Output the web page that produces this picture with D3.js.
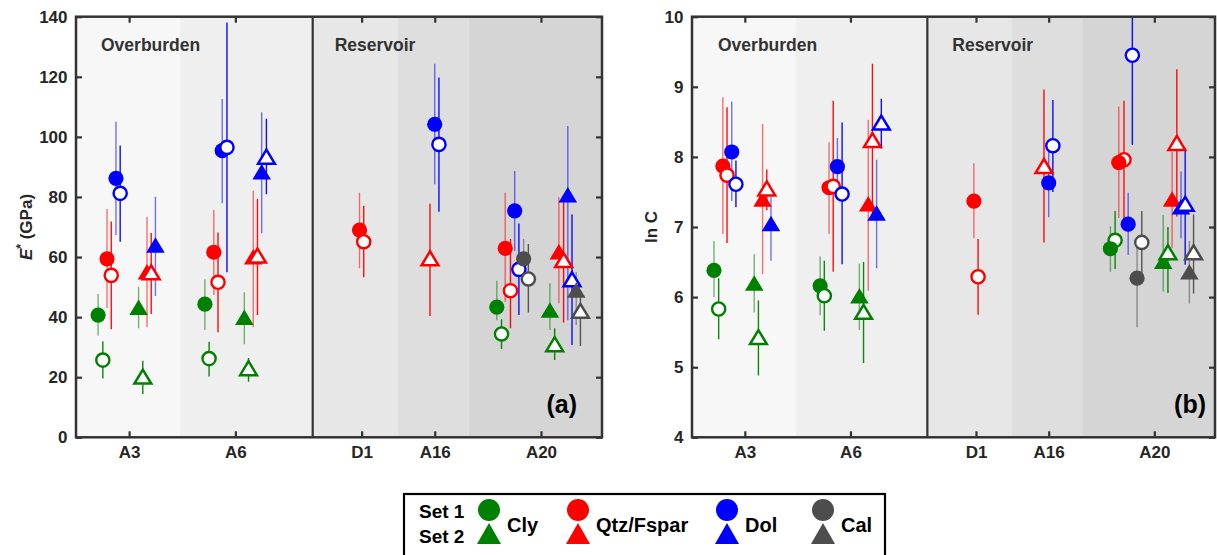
<!DOCTYPE html>
<html>
<head>
<meta charset="utf-8">
<script src="https://cdn.jsdelivr.net/npm/d3@7"></script>
<style>
  body { margin: 0; background: #fff; }
  svg { display: block; }
  text { font-family: "Liberation Sans", Arial, Helvetica, sans-serif; font-weight: bold; }
</style>
</head>
<body>
<svg id="chart" width="1217" height="555"></svg>
<script>
// ---- sites along the section ----
const sites = ["A3", "A6", "D1", "A16", "A20"];
const sitePos = [1.01, 3.03, 5.43, 6.82, 8.84];
const bandEdges = [0, 1.98, 4.5, 6.12, 7.46, 10];
const zoneNames = ["Overburden", "Reservoir"];
const zoneStart = [0, 4.5];

// ---- mineral groups ----
const minerals = ["Cly", "Qtz/Fspar", "Dol", "Cal"];

// rows: site, set (1 or 2), hollow, pos, E*, E* low, E* high, lnC, lnC low, lnC high
const cly = [
  ["A3", 1, false, 0.42, 40.7, 33.8, 47.7, 6.38, 6.00, 6.80],
  ["A3", 1, true,  0.51, 25.7, 19.6, 32.0, 5.83, 5.40, 6.27],
  ["A3", 2, false, 1.19, 43.3, 36.3, 50.1, 6.20, 5.78, 6.61],
  ["A3", 2, true,  1.27, 20.2, 14.4, 25.5, 5.43, 4.88, 5.95],
  ["A6", 1, false, 2.45, 44.3, 35.7, 52.6, 6.16, 5.74, 6.58],
  ["A6", 1, true,  2.53, 26.2, 20.2, 31.8, 6.02, 5.52, 6.52],
  ["A6", 2, false, 3.20, 40.0, 31.0, 48.3, 6.02, 5.53, 6.48],
  ["A6", 2, true,  3.28, 23.0, 18.5, 26.4, 5.79, 5.06, 6.50],
  ["A20", 1, false, 8.00, 43.3, 39.0, 52.1, 6.69, 6.36, 7.01],
  ["A20", 1, true,  8.09, 34.4, 29.4, 39.3, 6.81, 6.40, 7.23],
  ["A20", 2, false, 9.01, 42.4, 35.7, 51.3, 6.51, 6.08, 7.17],
  ["A20", 2, true,  9.10, 31.0, 25.7, 36.3, 6.64, 6.06, 7.00]
];
const qtz = [
  ["A3", 1, false, 0.59, 59.4, 43.0, 76.0, 7.87, 6.90, 8.85],
  ["A3", 1, true,  0.67, 53.9, 36.0, 71.8, 7.74, 6.77, 8.71],
  ["A3", 2, false, 1.35, 55.1, 36.6, 73.4, 7.40, 6.33, 8.47],
  ["A3", 2, true,  1.43, 54.9, 41.0, 68.0, 7.55, 7.24, 7.82],
  ["A6", 1, false, 2.62, 61.6, 47.4, 75.7, 7.56, 6.90, 8.21],
  ["A6", 1, true,  2.70, 51.6, 35.0, 68.2, 7.58, 6.36, 8.80],
  ["A6", 2, false, 3.37, 60.1, 36.6, 82.1, 7.33, 6.09, 8.53],
  ["A6", 2, true,  3.45, 60.5, 40.7, 79.3, 8.24, 7.15, 9.33],
  ["D1", 1, false, 5.39, 69.0, 56.3, 81.4, 7.37, 6.84, 7.91],
  ["D1", 1, true,  5.47, 65.1, 53.3, 77.1, 6.29, 5.75, 6.83],
  ["A16", 2, true, 6.73, 59.6, 40.4, 77.7, 7.87, 6.78, 8.96],
  ["A20", 1, false, 8.16, 62.9, 45.0, 81.4, 7.92, 7.13, 8.72],
  ["A20", 1, true,  8.26, 48.8, 36.3, 66.0, 7.96, 7.10, 8.80],
  ["A20", 2, false, 9.18, 61.8, 44.6, 79.9, 7.40, 6.70, 8.07],
  ["A20", 2, true,  9.27, 59.0, 38.2, 79.0, 8.20, 7.15, 9.25]
];
const dol = [
  ["A3", 1, false, 0.76, 86.2, 67.3, 105.0, 8.07, 7.37, 8.79],
  ["A3", 1, true,  0.84, 81.2, 65.1, 97.1, 7.61, 7.28, 7.95],
  ["A3", 2, false, 1.51, 64.0, 47.0, 80.1, 7.05, 6.52, 7.43],
  ["A6", 1, false, 2.78, 95.4, 77.9, 112.6, 7.86, 7.39, 8.27],
  ["A6", 1, true,  2.87, 96.5, 54.9, 138.1, 7.47, 6.47, 8.49],
  ["A6", 2, false, 3.53, 88.4, 67.9, 108.2, 7.20, 6.41, 7.96],
  ["A6", 2, true,  3.62, 93.4, 80.9, 106.0, 8.49, 8.12, 8.83],
  ["A16", 1, false, 6.82, 104.2, 84.2, 124.3, 7.63, 7.14, 8.10],
  ["A16", 1, true,  6.90, 97.5, 75.1, 119.8, 8.16, 7.50, 8.81],
  ["A20", 1, false, 8.34, 75.4, 62.0, 88.6, 7.04, 6.60, 7.49],
  ["A20", 1, true,  8.42, 55.9, 40.7, 71.2, 9.45, 8.17, 10.80],
  ["A20", 2, false, 9.35, 80.7, 39.0, 103.6, 7.29, 6.84, 7.79],
  ["A20", 2, true,  9.43, 52.6, 30.7, 74.2, 7.33, 6.46, 8.10]
];
const cal = [
  ["A20", 1, false, 8.51, 59.4, 52.0, 66.0, 6.27, 5.57, 6.70],
  ["A20", 1, true,  8.60, 52.7, 41.5, 64.3, 6.78, 6.27, 7.23],
  ["A20", 2, false, 9.51, 49.0, 37.4, 55.0, 6.36, 5.91, 6.80],
  ["A20", 2, true,  9.59, 42.1, 30.4, 48.5, 6.64, 6.05, 7.18]
];

// ---- y axes ----
const eTicks = [0, 20, 40, 60, 80, 100, 120, 140];
const cTicks = [4, 5, 6, 7, 8, 9, 10];

// ---------------- drawing ----------------
const mineralColor = ["#008000", "#ff0000", "#0000ff", "#4d4d4d"];
const bandFill = ["#f7f7f7", "#efefef", "#e7e7e7", "#dedede", "#d5d5d5"];
const groups = [cly, qtz, dol, cal];

const points = [];
groups.forEach((rows, mi) => rows.forEach(r => points.push({
  mineral: mi, site: r[0], set: r[1], hollow: r[2], pos: r[3],
  E: [r[4], r[5], r[6]], C: [r[7], r[8], r[9]]
})));

// stacking: at A20 the hollow Set-1 circles sit underneath the filled ones
const layer = d => (d.site === "A20" && d.set === 1 && d.hollow) ? 0 : 1;

const svg = d3.select("#chart");
const axisColor = "#333333";

const panels = [
  { id: "a", key: "E", left: 76, right: 602, top: 16.7, bottom: 437.3,
    domain: [0, 140], ticks: eTicks, letterEnd: 577, zoneInset: [25, 22] },
  { id: "b", key: "C", left: 692, right: 1215, top: 16.7, bottom: 437.3,
    domain: [4, 10], ticks: cTicks, letterEnd: 1206, zoneInset: [26, 25] }
];

function trianglePath(halfW, h) {
  return `M0,${-h / 2}L${halfW},${h / 2}L${-halfW},${h / 2}Z`;
}

panels.forEach(p => {
  const x = d3.scaleLinear().domain([0, 10]).range([p.left, p.right]);
  const y = d3.scaleLinear().domain(p.domain).range([p.bottom, p.top]);
  const g = svg.append("g");

  // shaded bands, one per site
  g.selectAll("rect.band").data(d3.range(sites.length)).join("rect")
    .attr("x", i => x(bandEdges[i]))
    .attr("y", p.top)
    .attr("width", i => x(bandEdges[i + 1]) - x(bandEdges[i]))
    .attr("height", p.bottom - p.top)
    .attr("fill", i => bandFill[i]);

  // zone names
  g.selectAll("text.zone").data(zoneNames).join("text")
    .attr("x", (d, i) => x(zoneStart[i]) + p.zoneInset[i])
    .attr("y", 51)
    .attr("font-size", 17.5)
    .attr("fill", "#333")
    .text(d => d);

  const clipId = "clip-" + p.id;
  svg.append("clipPath").attr("id", clipId).append("rect")
    .attr("x", p.left).attr("y", p.top)
    .attr("width", p.right - p.left).attr("height", p.bottom - p.top);

  const plot = g.append("g").attr("clip-path", `url(#${clipId})`);

  // error bars
  plot.selectAll("line.err").data(points).join("line")
    .attr("x1", d => x(d.pos)).attr("x2", d => x(d.pos))
    .attr("y1", d => y(d[p.key][1])).attr("y2", d => y(d[p.key][2]))
    .attr("stroke", d => mineralColor[d.mineral])
    .attr("stroke-width", 1.4)
    .attr("stroke-opacity", d => d.hollow ? 0.95 : 0.55);

  // markers
  const ordered = points.slice().sort((a, b) => (layer(a) - layer(b)) || (a.pos - b.pos));
  const marks = plot.selectAll("g.mark").data(ordered).join("g")
    .attr("transform", d => `translate(${x(d.pos)},${y(d[p.key][0])})`);

  marks.filter(d => d.set === 1).append("circle")
    .attr("r", d => d.hollow ? 6.6 : 7.6)
    .attr("fill", d => d.hollow ? "#fff" : mineralColor[d.mineral])
    .attr("stroke", d => d.hollow ? mineralColor[d.mineral] : "none")
    .attr("stroke-width", 2.4);

  marks.filter(d => d.set === 2).append("path")
    .attr("d", d => d.hollow ? trianglePath(8.4, 14) : trianglePath(9.3, 15.5))
    .attr("fill", d => d.hollow ? "#fff" : mineralColor[d.mineral])
    .attr("stroke", d => d.hollow ? mineralColor[d.mineral] : "none")
    .attr("stroke-width", 2.5)
    .attr("stroke-linejoin", "miter");

  // axes: ticks point inward on every side
  const styleAxis = sel => {
    sel.select(".domain").remove();
    sel.selectAll(".tick line").attr("stroke", axisColor).attr("stroke-width", 2.2);
    sel.selectAll(".tick text").attr("fill", "#262626").attr("font-size", 17)
      .attr("font-family", '"Liberation Sans", Arial, sans-serif').attr("font-weight", "bold");
  };

  g.append("g").attr("transform", `translate(0,${p.bottom})`)
    .call(d3.axisBottom(x).tickValues(sitePos).tickFormat((d, i) => sites[i])
      .tickSizeInner(-6).tickSizeOuter(0).tickPadding(9))
    .call(styleAxis);
  g.append("g").attr("transform", `translate(0,${p.top})`)
    .call(d3.axisTop(x).tickValues(sitePos).tickFormat("").tickSizeInner(-6).tickSizeOuter(0))
    .call(styleAxis);
  g.append("g").attr("transform", `translate(${p.left},0)`)
    .call(d3.axisLeft(y).tickValues(p.ticks).tickFormat(d3.format("d"))
      .tickSizeInner(-6).tickSizeOuter(0).tickPadding(8.5))
    .call(styleAxis);
  g.append("g").attr("transform", `translate(${p.right},0)`)
    .call(d3.axisRight(y).tickValues(p.ticks).tickFormat("").tickSizeInner(-6).tickSizeOuter(0))
    .call(styleAxis);

  // frame and zone divider
  g.append("rect")
    .attr("x", p.left).attr("y", p.top)
    .attr("width", p.right - p.left).attr("height", p.bottom - p.top)
    .attr("fill", "none").attr("stroke", axisColor).attr("stroke-width", 2.5);
  g.append("line")
    .attr("x1", x(zoneStart[1])).attr("x2", x(zoneStart[1]))
    .attr("y1", p.top).attr("y2", p.bottom)
    .attr("stroke", axisColor).attr("stroke-width", 2.2);

  // panel letter
  g.append("text")
    .attr("x", p.letterEnd).attr("y", 413)
    .attr("text-anchor", "end")
    .attr("font-size", 25)
    .attr("fill", "#000")
    .text(`(${p.id})`);
});

// y-axis titles
const ylab1 = svg.append("text")
  .attr("transform", `translate(32,${(16.7 + 437.3) / 2}) rotate(-90)`)
  .attr("text-anchor", "middle").attr("font-size", 17).attr("fill", "#262626");
ylab1.append("tspan").attr("font-style", "italic").text("E");
ylab1.append("tspan").attr("dy", -7).attr("font-size", 12).text("*");
ylab1.append("tspan").attr("dy", 7).text(" (GPa)");

const ylab2 = svg.append("text")
  .attr("transform", `translate(657,${(16.7 + 437.3) / 2}) rotate(-90)`)
  .attr("text-anchor", "middle").attr("font-size", 17).attr("fill", "#262626");
ylab2.append("tspan").text("ln ");
ylab2.append("tspan").text("C");

// ---- legend ----
const legend = svg.append("g");
legend.append("rect")
  .attr("x", 404).attr("y", 494).attr("width", 481).attr("height", 90)
  .attr("fill", "#fff").attr("stroke", "#000").attr("stroke-width", 2.2);
legend.append("text").attr("x", 419).attr("y", 518).attr("font-size", 19).attr("fill", "#000").text("Set 1");
legend.append("text").attr("x", 419).attr("y", 543).attr("font-size", 19).attr("fill", "#000").text("Set 2");

const legendX = [489, 578, 727, 823];
const items = legend.selectAll("g.item").data(minerals).join("g")
  .attr("transform", (d, i) => `translate(${legendX[i]},0)`);
items.append("circle").attr("cy", 510).attr("r", 11)
  .attr("fill", (d, i) => mineralColor[i]);
items.append("path")
  .attr("transform", "translate(0,533.5)")
  .attr("d", trianglePath(12, 21))
  .attr("fill", (d, i) => mineralColor[i]);
items.append("text")
  .attr("x", 18).attr("y", 532)
  .attr("font-size", 20).attr("fill", "#000")
  .text(d => d);
</script>
</body>
</html>
